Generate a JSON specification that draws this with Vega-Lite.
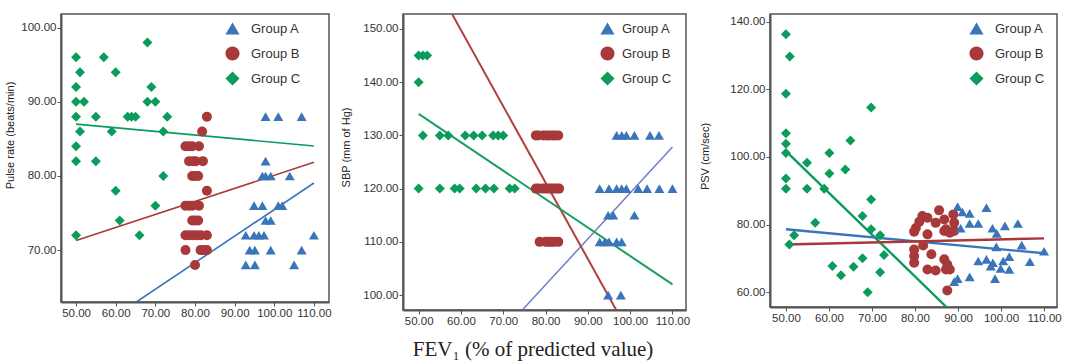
{
  "$schema": "https://vega.github.io/schema/vega-lite/v6.json",
  "padding": {"left": 4, "top": 6, "right": 0, "bottom": 0},
  "background": "white",
  "spacing": 8,
  "title": {"text": "FEV₁ (% of predicted value)", "orient": "bottom", "anchor": "middle", "font": "Liberation Serif", "fontSize": 21, "fontWeight": "normal", "color": "#222", "offset": 12},
  "datasets": {
    "p1": [
      {"fev": 68, "val": 98, "group": "Group C"}, {"fev": 50, "val": 96, "group": "Group C"}, {"fev": 57, "val": 96, "group": "Group C"},
      {"fev": 51, "val": 94, "group": "Group C"}, {"fev": 60, "val": 94, "group": "Group C"}, {"fev": 50, "val": 92, "group": "Group C"},
      {"fev": 69, "val": 92, "group": "Group C"}, {"fev": 50, "val": 90, "group": "Group C"}, {"fev": 52, "val": 90, "group": "Group C"},
      {"fev": 68, "val": 90, "group": "Group C"}, {"fev": 70, "val": 90, "group": "Group C"}, {"fev": 50, "val": 88, "group": "Group C"},
      {"fev": 55, "val": 88, "group": "Group C"}, {"fev": 63, "val": 88, "group": "Group C"}, {"fev": 64, "val": 88, "group": "Group C"},
      {"fev": 65, "val": 88, "group": "Group C"}, {"fev": 73, "val": 88, "group": "Group C"}, {"fev": 51, "val": 86, "group": "Group C"},
      {"fev": 59, "val": 86, "group": "Group C"}, {"fev": 72, "val": 86, "group": "Group C"}, {"fev": 50, "val": 84, "group": "Group C"},
      {"fev": 50, "val": 82, "group": "Group C"}, {"fev": 55, "val": 82, "group": "Group C"}, {"fev": 72, "val": 80, "group": "Group C"},
      {"fev": 60, "val": 78, "group": "Group C"}, {"fev": 70, "val": 76, "group": "Group C"}, {"fev": 61, "val": 74, "group": "Group C"},
      {"fev": 50, "val": 72, "group": "Group C"}, {"fev": 66, "val": 72, "group": "Group C"},
      {"fev": 83, "val": 88, "group": "Group B"}, {"fev": 81.8, "val": 86, "group": "Group B"}, {"fev": 77.6, "val": 84, "group": "Group B"},
      {"fev": 78.5, "val": 84, "group": "Group B"}, {"fev": 79.3, "val": 84, "group": "Group B"}, {"fev": 81, "val": 84, "group": "Group B"},
      {"fev": 78.5, "val": 82, "group": "Group B"}, {"fev": 79.5, "val": 82, "group": "Group B"}, {"fev": 80.2, "val": 82, "group": "Group B"},
      {"fev": 82, "val": 82, "group": "Group B"}, {"fev": 79.3, "val": 80, "group": "Group B"}, {"fev": 80, "val": 80, "group": "Group B"},
      {"fev": 80.8, "val": 80, "group": "Group B"}, {"fev": 83, "val": 78, "group": "Group B"}, {"fev": 77.6, "val": 76, "group": "Group B"},
      {"fev": 78.5, "val": 76, "group": "Group B"}, {"fev": 79.3, "val": 76, "group": "Group B"}, {"fev": 81, "val": 76, "group": "Group B"},
      {"fev": 79.3, "val": 74, "group": "Group B"}, {"fev": 80, "val": 74, "group": "Group B"}, {"fev": 80.8, "val": 74, "group": "Group B"},
      {"fev": 77.6, "val": 72, "group": "Group B"}, {"fev": 78.5, "val": 72, "group": "Group B"}, {"fev": 79.5, "val": 72, "group": "Group B"},
      {"fev": 80.5, "val": 72, "group": "Group B"}, {"fev": 81.5, "val": 72, "group": "Group B"}, {"fev": 83, "val": 72, "group": "Group B"},
      {"fev": 77.6, "val": 70, "group": "Group B"}, {"fev": 81.4, "val": 70, "group": "Group B"}, {"fev": 82.2, "val": 70, "group": "Group B"},
      {"fev": 83, "val": 70, "group": "Group B"}, {"fev": 80, "val": 68, "group": "Group B"},
      {"fev": 97.8, "val": 88, "group": "Group A"}, {"fev": 101, "val": 88, "group": "Group A"}, {"fev": 106.9, "val": 88, "group": "Group A"},
      {"fev": 97.8, "val": 82, "group": "Group A"}, {"fev": 97, "val": 80, "group": "Group A"}, {"fev": 97.8, "val": 80, "group": "Group A"},
      {"fev": 99.1, "val": 80, "group": "Group A"}, {"fev": 103.9, "val": 80, "group": "Group A"}, {"fev": 94.9, "val": 76, "group": "Group A"},
      {"fev": 97, "val": 76, "group": "Group A"}, {"fev": 101, "val": 76, "group": "Group A"}, {"fev": 102, "val": 76, "group": "Group A"},
      {"fev": 97.8, "val": 74, "group": "Group A"}, {"fev": 99.1, "val": 74, "group": "Group A"}, {"fev": 92.8, "val": 72, "group": "Group A"},
      {"fev": 94.9, "val": 72, "group": "Group A"}, {"fev": 96.1, "val": 72, "group": "Group A"}, {"fev": 97.4, "val": 72, "group": "Group A"},
      {"fev": 110, "val": 72, "group": "Group A"}, {"fev": 93.8, "val": 70, "group": "Group A"}, {"fev": 95.1, "val": 70, "group": "Group A"},
      {"fev": 99.1, "val": 70, "group": "Group A"}, {"fev": 106.9, "val": 70, "group": "Group A"}, {"fev": 92.8, "val": 68, "group": "Group A"},
      {"fev": 95.1, "val": 68, "group": "Group A"}, {"fev": 105, "val": 68, "group": "Group A"}
    ],
    "l1": [
      {"fev": 50, "val": 87.0, "group": "Group C"}, {"fev": 110, "val": 84.05, "group": "Group C"},
      {"fev": 50, "val": 71.3, "group": "Group B"}, {"fev": 110, "val": 81.85, "group": "Group B"},
      {"fev": 65.2, "val": 63.0, "group": "Group A"}, {"fev": 110, "val": 79.05, "group": "Group A"}
    ],
    "p2": [
      {"fev": 50, "val": 145, "group": "Group C"}, {"fev": 51, "val": 145, "group": "Group C"}, {"fev": 52, "val": 145, "group": "Group C"},
      {"fev": 50, "val": 140, "group": "Group C"}, {"fev": 51, "val": 130, "group": "Group C"}, {"fev": 55, "val": 130, "group": "Group C"},
      {"fev": 57, "val": 130, "group": "Group C"}, {"fev": 61, "val": 130, "group": "Group C"}, {"fev": 63, "val": 130, "group": "Group C"},
      {"fev": 65, "val": 130, "group": "Group C"}, {"fev": 67.6, "val": 130, "group": "Group C"}, {"fev": 68.8, "val": 130, "group": "Group C"},
      {"fev": 70, "val": 130, "group": "Group C"}, {"fev": 50, "val": 120, "group": "Group C"}, {"fev": 55, "val": 120, "group": "Group C"},
      {"fev": 58.5, "val": 120, "group": "Group C"}, {"fev": 59.7, "val": 120, "group": "Group C"}, {"fev": 63.6, "val": 120, "group": "Group C"},
      {"fev": 65.8, "val": 120, "group": "Group C"}, {"fev": 67.8, "val": 120, "group": "Group C"}, {"fev": 71.5, "val": 120, "group": "Group C"},
      {"fev": 72.7, "val": 120, "group": "Group C"},
      {"fev": 77.7, "val": 130, "group": "Group B"}, {"fev": 78.3, "val": 130, "group": "Group B"}, {"fev": 79.5, "val": 130, "group": "Group B"},
      {"fev": 80.3, "val": 130, "group": "Group B"}, {"fev": 81, "val": 130, "group": "Group B"}, {"fev": 81.7, "val": 130, "group": "Group B"},
      {"fev": 82.3, "val": 130, "group": "Group B"}, {"fev": 83, "val": 130, "group": "Group B"},
      {"fev": 77.7, "val": 120, "group": "Group B"}, {"fev": 78.3, "val": 120, "group": "Group B"}, {"fev": 79.3, "val": 120, "group": "Group B"},
      {"fev": 80, "val": 120, "group": "Group B"}, {"fev": 80.7, "val": 120, "group": "Group B"}, {"fev": 81.3, "val": 120, "group": "Group B"},
      {"fev": 82, "val": 120, "group": "Group B"}, {"fev": 82.7, "val": 120, "group": "Group B"}, {"fev": 83.2, "val": 120, "group": "Group B"},
      {"fev": 78.6, "val": 110, "group": "Group B"}, {"fev": 80, "val": 110, "group": "Group B"}, {"fev": 80.7, "val": 110, "group": "Group B"},
      {"fev": 81.3, "val": 110, "group": "Group B"}, {"fev": 82, "val": 110, "group": "Group B"}, {"fev": 83, "val": 110, "group": "Group B"},
      {"fev": 96.8, "val": 130, "group": "Group A"}, {"fev": 98, "val": 130, "group": "Group A"}, {"fev": 99.1, "val": 130, "group": "Group A"},
      {"fev": 101, "val": 130, "group": "Group A"}, {"fev": 104.7, "val": 130, "group": "Group A"}, {"fev": 106.8, "val": 130, "group": "Group A"},
      {"fev": 92.8, "val": 120, "group": "Group A"}, {"fev": 95, "val": 120, "group": "Group A"}, {"fev": 96.8, "val": 120, "group": "Group A"},
      {"fev": 98, "val": 120, "group": "Group A"}, {"fev": 99.1, "val": 120, "group": "Group A"}, {"fev": 101.9, "val": 120, "group": "Group A"},
      {"fev": 104, "val": 120, "group": "Group A"}, {"fev": 106.9, "val": 120, "group": "Group A"}, {"fev": 110, "val": 120, "group": "Group A"},
      {"fev": 94.8, "val": 115, "group": "Group A"}, {"fev": 96, "val": 115, "group": "Group A"}, {"fev": 101, "val": 115, "group": "Group A"},
      {"fev": 92.8, "val": 110, "group": "Group A"}, {"fev": 94, "val": 110, "group": "Group A"}, {"fev": 95, "val": 110, "group": "Group A"},
      {"fev": 96.8, "val": 110, "group": "Group A"}, {"fev": 98, "val": 110, "group": "Group A"},
      {"fev": 94.8, "val": 100, "group": "Group A"}, {"fev": 97.8, "val": 100, "group": "Group A"}
    ],
    "l2": [
      {"fev": 50, "val": 134.05, "group": "Group C"}, {"fev": 110, "val": 102.0, "group": "Group C"},
      {"fev": 57.9, "val": 152.8, "group": "Group B"}, {"fev": 96.7, "val": 97.2, "group": "Group B"},
      {"fev": 74.5, "val": 97.2, "group": "Group A"}, {"fev": 110, "val": 127.8, "group": "Group A"}
    ],
    "p3": [
      {"fev": 50, "val": 136.3, "group": "Group C"}, {"fev": 50.9, "val": 129.7, "group": "Group C"}, {"fev": 50, "val": 118.7, "group": "Group C"},
      {"fev": 69.8, "val": 114.6, "group": "Group C"}, {"fev": 50, "val": 107, "group": "Group C"}, {"fev": 50, "val": 103.9, "group": "Group C"},
      {"fev": 65, "val": 104.9, "group": "Group C"}, {"fev": 50, "val": 101.2, "group": "Group C"}, {"fev": 60.1, "val": 101.2, "group": "Group C"},
      {"fev": 54.9, "val": 98.3, "group": "Group C"}, {"fev": 63.8, "val": 96.3, "group": "Group C"}, {"fev": 60.1, "val": 95.1, "group": "Group C"},
      {"fev": 50, "val": 93.6, "group": "Group C"}, {"fev": 50, "val": 90.6, "group": "Group C"}, {"fev": 54.9, "val": 90.6, "group": "Group C"},
      {"fev": 58.9, "val": 90.6, "group": "Group C"}, {"fev": 69.8, "val": 87.4, "group": "Group C"}, {"fev": 67.8, "val": 82.5, "group": "Group C"},
      {"fev": 56.8, "val": 80.5, "group": "Group C"}, {"fev": 69.8, "val": 78.6, "group": "Group C"}, {"fev": 51.9, "val": 76.8, "group": "Group C"},
      {"fev": 71.9, "val": 76.8, "group": "Group C"}, {"fev": 50.8, "val": 74.1, "group": "Group C"}, {"fev": 72.8, "val": 71, "group": "Group C"},
      {"fev": 67.8, "val": 70, "group": "Group C"}, {"fev": 60.8, "val": 67.7, "group": "Group C"}, {"fev": 65.7, "val": 67.5, "group": "Group C"},
      {"fev": 71.9, "val": 65.9, "group": "Group C"}, {"fev": 62.8, "val": 65, "group": "Group C"}, {"fev": 69, "val": 60, "group": "Group C"},
      {"fev": 79.8, "val": 77.9, "group": "Group B"}, {"fev": 81, "val": 80.8, "group": "Group B"}, {"fev": 81.7, "val": 82.5, "group": "Group B"},
      {"fev": 82.9, "val": 82, "group": "Group B"}, {"fev": 80.2, "val": 79, "group": "Group B"}, {"fev": 81.9, "val": 73.8, "group": "Group B"},
      {"fev": 82.9, "val": 77.1, "group": "Group B"}, {"fev": 79.8, "val": 72.6, "group": "Group B"}, {"fev": 79.8, "val": 70.7, "group": "Group B"},
      {"fev": 79.8, "val": 68.7, "group": "Group B"}, {"fev": 83.8, "val": 71.2, "group": "Group B"}, {"fev": 82.9, "val": 66.7, "group": "Group B"},
      {"fev": 84.8, "val": 66.4, "group": "Group B"}, {"fev": 84.8, "val": 80.5, "group": "Group B"}, {"fev": 85.6, "val": 84.2, "group": "Group B"},
      {"fev": 86.8, "val": 81.5, "group": "Group B"}, {"fev": 87.2, "val": 78.6, "group": "Group B"}, {"fev": 88.1, "val": 77.6, "group": "Group B"},
      {"fev": 89.1, "val": 78.1, "group": "Group B"}, {"fev": 88.9, "val": 83, "group": "Group B"}, {"fev": 89.1, "val": 80.5, "group": "Group B"},
      {"fev": 86.8, "val": 69.7, "group": "Group B"}, {"fev": 87.5, "val": 68.2, "group": "Group B"}, {"fev": 87.2, "val": 66.7, "group": "Group B"},
      {"fev": 88.1, "val": 66.7, "group": "Group B"}, {"fev": 87.5, "val": 60.5, "group": "Group B"}, {"fev": 86.8, "val": 78.1, "group": "Group B"},
      {"fev": 89.9, "val": 85.3, "group": "Group A"}, {"fev": 91, "val": 83.7, "group": "Group A"}, {"fev": 92.7, "val": 83.3, "group": "Group A"},
      {"fev": 96.6, "val": 85, "group": "Group A"}, {"fev": 90.6, "val": 78.9, "group": "Group A"}, {"fev": 92.7, "val": 80.3, "group": "Group A"},
      {"fev": 94.7, "val": 80.3, "group": "Group A"}, {"fev": 98, "val": 78.9, "group": "Group A"}, {"fev": 99, "val": 77.4, "group": "Group A"},
      {"fev": 100.9, "val": 79.6, "group": "Group A"}, {"fev": 103.9, "val": 80.3, "group": "Group A"}, {"fev": 98.9, "val": 73.4, "group": "Group A"},
      {"fev": 104.8, "val": 73.9, "group": "Group A"}, {"fev": 110, "val": 72.1, "group": "Group A"}, {"fev": 94.7, "val": 69.2, "group": "Group A"},
      {"fev": 96.6, "val": 69.7, "group": "Group A"}, {"fev": 97.6, "val": 67.7, "group": "Group A"}, {"fev": 98.1, "val": 68.7, "group": "Group A"},
      {"fev": 99.9, "val": 67, "group": "Group A"}, {"fev": 100.5, "val": 69.2, "group": "Group A"}, {"fev": 101.9, "val": 70.5, "group": "Group A"},
      {"fev": 101.9, "val": 66.7, "group": "Group A"}, {"fev": 106.7, "val": 69, "group": "Group A"}, {"fev": 89.1, "val": 63.1, "group": "Group A"},
      {"fev": 89.9, "val": 64, "group": "Group A"}, {"fev": 92.7, "val": 64.5, "group": "Group A"}, {"fev": 98.6, "val": 64, "group": "Group A"}
    ],
    "l3": [
      {"fev": 50, "val": 101.75, "group": "Group C"}, {"fev": 87.3, "val": 55.6, "group": "Group C"},
      {"fev": 50, "val": 78.6, "group": "Group A"}, {"fev": 110, "val": 71.5, "group": "Group A"},
      {"fev": 50, "val": 74.1, "group": "Group B"}, {"fev": 110, "val": 75.9, "group": "Group B"}
    ]
  },
  "hconcat": [
    {
      "width": 268, "height": 288,
      "title": {"text": " ", "fontSize": 1, "offset": 6},
      "layer": [
        {
          "data": {"name": "l1"},
          "mark": {"type": "line", "clip": true, "strokeWidth": 1.6},
          "encoding": {
            "x": {"field": "fev", "type": "quantitative", "scale": {"domain": [46.2, 113.8], "nice": false, "zero": false}, "axis": {"title": null, "values": [50, 60, 70, 80, 90, 100, 110]}},
            "y": {"field": "val", "type": "quantitative", "scale": {"domain": [63, 101.85], "nice": false, "zero": false}, "axis": {"title": "Pulse rate (beats/min)", "titleY": 121, "values": [70, 80, 90, 100]}},
            "color": {"field": "group", "type": "nominal"}
          }
        },
        {
          "data": {"name": "p1"},
          "mark": {"type": "point", "filled": true, "size": 100, "opacity": 1, "strokeWidth": 0},
          "encoding": {
            "x": {"field": "fev", "type": "quantitative"},
            "y": {"field": "val", "type": "quantitative"},
            "shape": {"field": "group", "type": "nominal", "scale": {"domain": ["Group A", "Group B", "Group C"], "range": ["triangle-up", "circle", "diamond"]},
              "legend": {"title": null, "orient": "none", "legendX": 164, "legendY": 7, "symbolSize": 200, "labelOffset": 11, "rowPadding": 10, "padding": 0}},
            "color": {"field": "group", "type": "nominal", "scale": {"domain": ["Group A", "Group B", "Group C"], "range": ["#3a75ba", "#a8393b", "#0b9c5c"]},
              "legend": {"title": null, "orient": "none", "legendX": 164, "legendY": 7, "symbolSize": 200, "labelOffset": 11, "rowPadding": 10, "padding": 0}}
          }
        }
      ]
    },
    {
      "width": 283, "height": 296,
      "title": {"text": " ", "fontSize": 1, "offset": 6},
      "layer": [
        {
          "data": {"name": "l2"},
          "transform": [{"filter": "datum.group == 'Group A'"}],
          "mark": {"type": "line", "clip": true, "strokeWidth": 1.5, "color": "#6f7fc8"},
          "encoding": {
            "x": {"field": "fev", "type": "quantitative", "scale": {"domain": [46.3, 113.2], "nice": false, "zero": false}, "axis": {"title": null, "values": [50, 60, 70, 80, 90, 100, 110]}},
            "y": {"field": "val", "type": "quantitative", "scale": {"domain": [97.2, 152.8], "nice": false, "zero": false}, "axis": {"title": "SBP (mm of Hg)", "titleY": 133, "titlePadding": 11, "values": [100, 110, 120, 130, 140, 150]}}
          }
        },
        {
          "data": {"name": "l2"},
          "transform": [{"filter": "datum.group == 'Group B'"}],
          "mark": {"type": "line", "clip": true, "strokeWidth": 2, "color": "#b0403f"},
          "encoding": {"x": {"field": "fev", "type": "quantitative"}, "y": {"field": "val", "type": "quantitative"}}
        },
        {
          "data": {"name": "l2"},
          "transform": [{"filter": "datum.group == 'Group C'"}],
          "mark": {"type": "line", "clip": true, "strokeWidth": 2, "color": "#1a9e5f"},
          "encoding": {"x": {"field": "fev", "type": "quantitative"}, "y": {"field": "val", "type": "quantitative"}}
        },
        {
          "data": {"name": "p2"},
          "mark": {"type": "point", "filled": true, "size": 100, "opacity": 1, "strokeWidth": 0},
          "encoding": {
            "x": {"field": "fev", "type": "quantitative"},
            "y": {"field": "val", "type": "quantitative"},
            "shape": {"field": "group", "type": "nominal", "scale": {"domain": ["Group A", "Group B", "Group C"], "range": ["triangle-up", "circle", "diamond"]},
              "legend": {"title": null, "orient": "none", "legendX": 197, "legendY": 7, "symbolSize": 200, "labelOffset": 7, "rowPadding": 10, "padding": 0}},
            "color": {"field": "group", "type": "nominal", "scale": {"domain": ["Group A", "Group B", "Group C"], "range": ["#3a75ba", "#a8393b", "#0b9c5c"]},
              "legend": {"title": null, "orient": "none", "legendX": 197, "legendY": 7, "symbolSize": 200, "labelOffset": 7, "rowPadding": 10, "padding": 0}}
          }
        }
      ]
    },
    {
      "width": 287, "height": 293,
      "title": {"text": " ", "fontSize": 1, "offset": 6},
      "layer": [
        {
          "data": {"name": "l3"},
          "mark": {"type": "line", "clip": true, "strokeWidth": 2.4},
          "encoding": {
            "x": {"field": "fev", "type": "quantitative", "scale": {"domain": [46.3, 113], "nice": false, "zero": false}, "axis": {"title": null, "values": [50, 60, 70, 80, 90, 100, 110]}},
            "y": {"field": "val", "type": "quantitative", "scale": {"domain": [55.6, 142.3], "nice": false, "zero": false}, "axis": {"title": "PSV (cm/sec)", "titleY": 142, "titlePadding": 19, "values": [60, 80, 100, 120, 140]}},
            "color": {"field": "group", "type": "nominal"}
          }
        },
        {
          "data": {"name": "p3"},
          "mark": {"type": "point", "filled": true, "size": 100, "opacity": 1, "strokeWidth": 0},
          "encoding": {
            "x": {"field": "fev", "type": "quantitative"},
            "y": {"field": "val", "type": "quantitative"},
            "shape": {"field": "group", "type": "nominal", "scale": {"domain": ["Group A", "Group B", "Group C"], "range": ["triangle-up", "circle", "diamond"]},
              "legend": {"title": null, "orient": "none", "legendX": 199, "legendY": 7, "symbolSize": 200, "labelOffset": 11, "rowPadding": 10, "padding": 0}},
            "color": {"field": "group", "type": "nominal", "scale": {"domain": ["Group A", "Group B", "Group C"], "range": ["#3a75ba", "#a8393b", "#0b9c5c"]},
              "legend": {"title": null, "orient": "none", "legendX": 199, "legendY": 7, "symbolSize": 200, "labelOffset": 11, "rowPadding": 10, "padding": 0}}
          }
        }
      ]
    }
  ],
  "resolve": {
    "scale": {"shape": "independent", "color": "independent"},
    "legend": {"shape": "independent", "color": "independent"}
  },
  "config": {
    "view": {"stroke": "#555", "strokeWidth": 1.5},
    "axis": {
      "labelFont": "Liberation Sans", "labelFontSize": 11.5, "labelColor": "#333",
      "titleFont": "Liberation Sans", "titleFontSize": 11, "titleFontWeight": "normal", "titleColor": "#222",
      "grid": false, "domainColor": "#555", "domainWidth": 2, "tickColor": "#555", "tickSize": 4, "labelPadding": 1, "format": ".2f", "titlePadding": 5
    },
    "legend": {"labelFont": "Liberation Sans", "labelFontSize": 13, "labelColor": "#333", "symbolStrokeWidth": 0}
  }
}
